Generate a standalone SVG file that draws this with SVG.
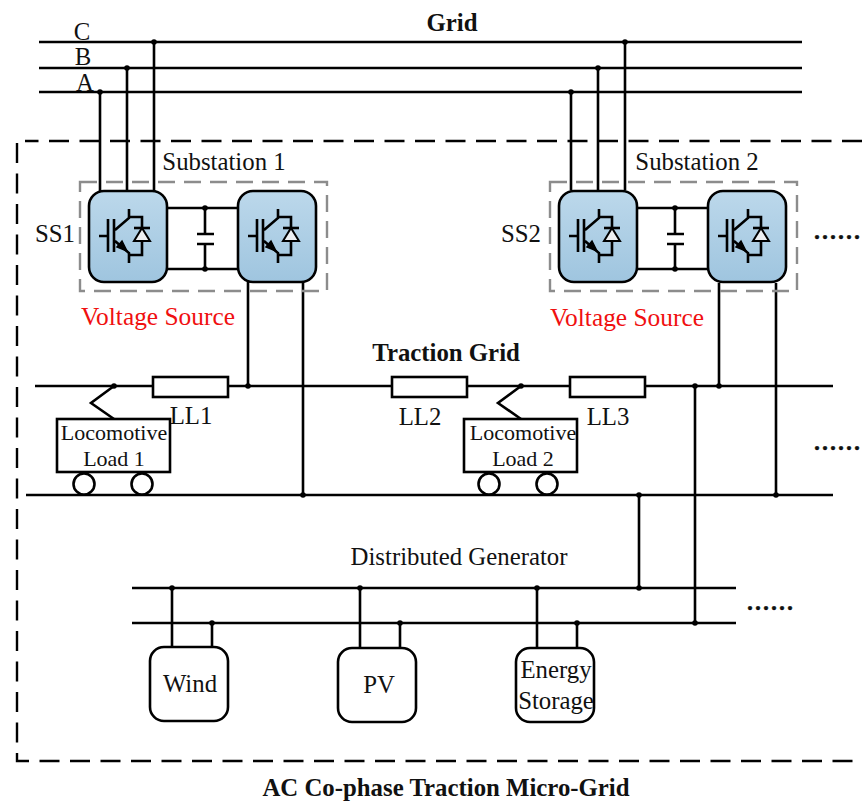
<svg xmlns="http://www.w3.org/2000/svg" xmlns:xlink="http://www.w3.org/1999/xlink" width="863" height="801" viewBox="0 0 863 801">
<style>
text{font-family:"Liberation Serif","Times New Roman",serif;font-size:24.8px;fill:#111;text-anchor:middle}
.b{font-weight:bold}
.r{fill:#f01010;font-size:25.4px}
.s{font-size:22px}
.o{font-size:32px;stroke:#111;stroke-width:.5}
.l{fill:none;stroke:#000;stroke-width:2.6}
.t{fill:none;stroke:#000;stroke-width:2.6}
.box{fill:#fff;stroke:#000;stroke-width:2.6}
.d{fill:#000}
.conv{fill:url(#cg);stroke:#000;stroke-width:2.6}
.gd{fill:none;stroke:#8c8c8c;stroke-width:2.4;stroke-dasharray:17 9}
.od{fill:none;stroke:#000;stroke-width:2.4;stroke-dasharray:20 10.5}
</style>
<defs>
<linearGradient id="cg" x1="0" y1="0" x2="0" y2="1"><stop offset="0" stop-color="#bcd8eb"/><stop offset="1" stop-color="#9fc5df"/></linearGradient>
<g id="igbt">
<rect class="conv" x="89" y="191" width="78" height="91" rx="15"/>
<path class="t" d="M99 236H108M108 219V252M114 219V252M115 230L129 218V209M115 241L129 253V263M129 217H142V255H129"/>
<path d="M127 251L117 247L122 241Z" stroke="#000" stroke-width="1.5"/>
<path d="M142 228L150 241H134Z" fill="#eef0f2" stroke="#000" stroke-width="2"/>
<path class="t" d="M134 228H150"/>
</g>
<g id="sub">
<path class="l" d="M167 208H238M167 269H238M205 208V234M205 244V269M197 234H214M197 244H214"/>
<circle class="d" cx="205" cy="208" r="2.8"/><circle class="d" cx="205" cy="269" r="2.8"/>
<use xlink:href="#igbt" href="#igbt"/>
<use xlink:href="#igbt" href="#igbt" x="149"/>
<rect class="gd" x="80" y="182" width="247" height="109"/>
</g>
</defs>
<rect width="863" height="801" fill="#fff"/>
<g id="connectors">
<path class="l" d="M39 42H802M39 68H802M39 92H802"/>
<path class="l" d="M100 92V191M127 68V191M154 42V191M571 92V190M598 68V190M625 42V190"/>
<path class="l" d="M35 386H153M228 386H392M467 386H570M645 386H833M26 495H833"/>
<path class="l" d="M248 282V386M303 283V495M719 283V386M776 283V495M695 386V623M639 495V588"/>
<path class="l" d="M132 588H736M132 623H736"/>
<path class="l" d="M172 588V647M212 623V647M360 588V648M400 623V648M537 588V648M577 623V648"/>
<path class="l" d="M114 386L91 403L114 419M521 386L498 403L521 419"/>
<g class="d">
<circle cx="100" cy="92" r="2.8"/><circle cx="127" cy="68" r="2.8"/><circle cx="154" cy="42" r="2.8"/>
<circle cx="571" cy="92" r="2.8"/><circle cx="598" cy="68" r="2.8"/><circle cx="625" cy="42" r="2.8"/>
<circle cx="114" cy="386" r="2.8"/><circle cx="248" cy="386" r="2.8"/><circle cx="521" cy="386" r="2.8"/>
<circle cx="719" cy="386" r="2.8"/><circle cx="695" cy="386" r="2.8"/>
<circle cx="303" cy="495" r="2.8"/><circle cx="776" cy="495" r="2.8"/><circle cx="639" cy="495" r="2.8"/>
<circle cx="639" cy="588" r="2.8"/><circle cx="695" cy="623" r="2.8"/>
<circle cx="172" cy="588" r="2.8"/><circle cx="212" cy="623" r="2.8"/><circle cx="360" cy="588" r="2.8"/>
<circle cx="400" cy="623" r="2.8"/><circle cx="537" cy="588" r="2.8"/><circle cx="577" cy="623" r="2.8"/>
</g>
</g>
<path id="boundary" class="od" d="M862 141H25M17 143V761H862"/>
<text class="b" x="452" y="31">Grid</text>
<text x="82" y="40">C</text><text x="83" y="65">B</text><text x="85" y="91">A</text>
<g id="substation1"><use xlink:href="#sub" href="#sub"/>
<text x="224" y="170">Substation 1</text><text x="55" y="242">SS1</text><text class="r" x="158" y="325">Voltage Source</text></g>
<g id="substation2"><use xlink:href="#sub" href="#sub" x="470"/>
<text x="697" y="170">Substation 2</text><text x="521" y="242">SS2</text><text class="r" x="627" y="326">Voltage Source</text></g>
<text class="b" x="446" y="361">Traction Grid</text>
<g id="LL1"><rect class="box" x="153" y="377" width="75" height="20"/><text x="191" y="424">LL1</text></g>
<g id="LL2"><rect class="box" x="392" y="377" width="75" height="20"/><text x="420" y="425">LL2</text></g>
<g id="LL3"><rect class="box" x="570" y="377" width="75" height="20"/><text x="608" y="425">LL3</text></g>
<g id="load1"><rect class="box" x="57" y="419" width="113" height="53"/>
<circle class="box" cx="84" cy="484" r="10.5"/><circle class="box" cx="142" cy="484" r="10.5"/>
<text class="s" x="114" y="440">Locomotive</text><text class="s" x="114" y="466">Load 1</text></g>
<g id="load2"><rect class="box" x="464" y="419" width="113" height="53"/>
<circle class="box" cx="489" cy="484" r="10.5"/><circle class="box" cx="547" cy="484" r="10.5"/>
<text class="s" x="523" y="440">Locomotive</text><text class="s" x="523" y="466">Load 2</text></g>
<text x="459" y="565">Distributed Generator</text>
<g id="wind"><rect class="box" x="150" y="647" width="78" height="74" rx="14"/><text x="190" y="692">Wind</text></g>
<g id="pv"><rect class="box" x="338" y="648" width="78" height="74" rx="14"/><text x="379" y="693">PV</text></g>
<g id="storage"><rect class="box" x="516" y="648" width="78" height="74" rx="14"/><text x="556" y="678">Energy</text><text x="556" y="709">Storage</text></g>
<text class="o" x="837" y="239">......</text><text class="o" x="837" y="450">......</text><text class="o" x="770" y="610">......</text>
<text class="b" x="446" y="796">AC Co-phase Traction Micro-Grid</text>
</svg>
